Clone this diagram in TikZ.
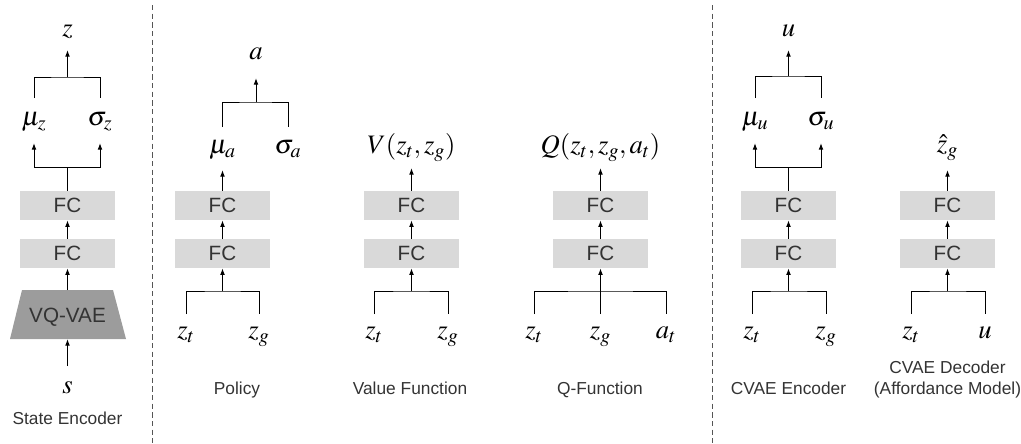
\documentclass[tikz,border=0pt]{standalone}
\usepackage{mathptmx}
\usepackage[no-math]{fontspec}
\setsansfont{Liberation Sans}
\DeclareMathSizes{20}{20}{15}{11}
\usepackage{xcolor}
\definecolor{fcgray}{HTML}{D9D9D9}
\definecolor{vqgray}{HTML}{9C9C9C}
\definecolor{labeltext}{HTML}{333333}
\definecolor{sepline}{HTML}{555555}
\usetikzlibrary{arrows.meta, positioning, calc}

\tikzset{
  fcbox/.style={fill=fcgray, minimum width=71.25pt, minimum height=21.75pt,
                inner sep=0pt, font=\sffamily\fontsize{15.5}{17}\selectfont, text=labeltext},
  vqlbl/.style={inner sep=0pt, font=\sffamily\fontsize{15.5}{17}\selectfont, text=labeltext},
  mlbl/.style={anchor=base, inner sep=0pt, font=\fontsize{20}{23}\selectfont},
  blocklabel/.style={anchor=base, align=center,
                     font=\sffamily\fontsize{13}{16}\selectfont, text=labeltext},
  wire/.style={line width=0.75pt},
  conn/.style={-{Latex[length=5pt,width=3.6pt]}, line width=0.75pt},
  sep/.style={sepline, line width=0.6pt, dash pattern=on 4pt off 2.5pt}
}

\begin{document}
\begin{tikzpicture}[x=0.75pt, y=-0.75pt]
  \useasboundingbox (0,0) rectangle (1021,443);

  % section separators
  \draw[sep] (152,5) -- (152,443);
  \draw[sep] (712,5) -- (712,443);

  % two FC layers in every block
  \foreach \blk/\x in {se/67.5, pol/222.5, val/411.5, q/600.5, ce/788.5, cd/947.5} {
    \node[fcbox] (\blk-fc1) at (\x,205.5) {FC};
    \node[fcbox] (\blk-fc2) at (\x,253.5) {FC};
    \draw[conn] (\blk-fc2) -- (\blk-fc1);
  }

  % State Encoder
  \fill[vqgray] (22,290) -- (113,290) -- (126,339) -- (10,339) -- cycle;
  \node[vqlbl] (se-vq) at (67.5,317) {VQ-VAE};
  \coordinate (se-vqtop) at (67.5,290);
  \coordinate (se-vqbot) at (67.5,339);
  \node[mlbl] (se-s) at (67.5,393) {$s$};
  \draw[conn] ([yshift=20.25pt]se-s.base) -- (se-vqbot);
  \draw[conn] (se-vqtop) -- (se-fc2);
  \node[mlbl] (se-mu) at (34,125) {$\mu_z$};
  \node[mlbl] (se-sig) at (100,125) {$\sigma_z$};
  \coordinate (se-split) at (67.5,167);
  \draw[wire] (se-fc1.north) -- (se-split);
  \draw[conn] (se-split) -| ([yshift=-13.5pt]se-mu.base);
  \draw[conn] (se-split) -| ([yshift=-13.5pt]se-sig.base);
  \node[mlbl] (se-z) at (67.5,36) {$z$};
  \coordinate (se-top) at (67.5,77);
  \draw[wire] ([yshift=20.25pt]se-mu.base) |- (se-top) -| ([yshift=20.25pt]se-sig.base);
  \draw[conn] (se-top) -- ([yshift=-10.5pt]se-z.base);
  \node[blocklabel] (se-cap) at (67.5,424) {State Encoder};

  % Policy
  \node[mlbl] (pol-zt) at (186,338) {$z_t$};
  \node[mlbl] (pol-zg) at (259,338) {$z_g$};
  \coordinate (pol-bar) at (222.5,291);
  \draw[wire] ([yshift=18pt]pol-zt.base) |- (pol-bar) -| ([yshift=18pt]pol-zg.base);
  \draw[conn] (pol-bar) -- (pol-fc2);
  \node[mlbl] (pol-mu) at (222.5,153) {$\mu_a$};
  \node[mlbl] (pol-sig) at (288,153) {$\sigma_a$};
  \draw[conn] (pol-fc1.north) -- ([yshift=-12.75pt]pol-mu.base);
  \node[mlbl] (pol-a) at (256,59) {$a$};
  \coordinate (pol-top) at (256,102);
  \draw[wire] ([yshift=19.5pt]pol-mu.base) |- (pol-top) -| ([yshift=19.5pt]pol-sig.base);
  \draw[conn] (pol-top) -- ([yshift=-14.25pt]pol-a.base);
  \node[blocklabel] (pol-cap) at (237,394.5) {Policy};

  % Value Function
  \node[mlbl] (val-zt) at (374,338) {$z_t$};
  \node[mlbl] (val-zg) at (448,338) {$z_g$};
  \coordinate (val-bar) at (411.5,291);
  \draw[wire] ([yshift=18pt]val-zt.base) |- (val-bar) -| ([yshift=18pt]val-zg.base);
  \draw[conn] (val-bar) -- (val-fc2);
  \node[mlbl] (val-out) at (411.5,153) {$V(z_t, z_g)$};
  \draw[conn] (val-fc1.north) -- ([yshift=-11.25pt]val-out.base);
  \node[blocklabel] (val-cap) at (410,394.5) {Value Function};

  % Q-Function
  \node[mlbl] (q-zt) at (534,338) {$z_t$};
  \node[mlbl] (q-zg) at (600.5,338) {$z_g$};
  \node[mlbl] (q-at) at (666,338) {$a_t$};
  \coordinate (q-bar) at (600.5,291);
  \draw[wire] ([yshift=18pt]q-zt.base) |- (q-bar) -| ([yshift=18pt]q-at.base);
  \draw[conn] ([yshift=18pt]q-zg.base) -- (q-fc2);
  \node[mlbl] (q-out) at (600.5,153) {$Q(z_t, z_g, a_t)$};
  \draw[conn] (q-fc1.north) -- ([yshift=-11.25pt]q-out.base);
  \node[blocklabel] (q-cap) at (600,394.5) {Q-Function};

  % CVAE Encoder
  \node[mlbl] (ce-zt) at (752,338) {$z_t$};
  \node[mlbl] (ce-zg) at (826,338) {$z_g$};
  \coordinate (ce-bar) at (788.5,291);
  \draw[wire] ([yshift=18pt]ce-zt.base) |- (ce-bar) -| ([yshift=18pt]ce-zg.base);
  \draw[conn] (ce-bar) -- (ce-fc2);
  \node[mlbl] (ce-mu) at (755,125) {$\mu_u$};
  \node[mlbl] (ce-sig) at (821,125) {$\sigma_u$};
  \coordinate (ce-split) at (788.5,167);
  \draw[wire] (ce-fc1.north) -- (ce-split);
  \draw[conn] (ce-split) -| ([yshift=-13.5pt]ce-mu.base);
  \draw[conn] (ce-split) -| ([yshift=-13.5pt]ce-sig.base);
  \node[mlbl] (ce-u) at (788.5,36) {$u$};
  \coordinate (ce-top) at (788.5,76);
  \draw[wire] ([yshift=20.25pt]ce-mu.base) |- (ce-top) -| ([yshift=20.25pt]ce-sig.base);
  \draw[conn] (ce-top) -- ([yshift=-10.5pt]ce-u.base);
  \node[blocklabel] (ce-cap) at (788.5,394.5) {CVAE Encoder};

  % CVAE Decoder
  \node[mlbl] (cd-zt) at (911,338) {$z_t$};
  \node[mlbl] (cd-u) at (985,338) {$u$};
  \coordinate (cd-bar) at (947.5,291);
  \draw[wire] ([yshift=18pt]cd-zt.base) |- (cd-bar) -| ([yshift=18pt]cd-u.base);
  \draw[conn] (cd-bar) -- (cd-fc2);
  \node[mlbl] (cd-out) at (947.5,152) {$\hat{z}_g$};
  \draw[conn] (cd-fc1.north) -- ([yshift=-13.5pt]cd-out.base);
  \node[blocklabel] (cd-cap) at (947.5,394.5) {CVAE Decoder\\(Affordance Model)};
\end{tikzpicture}
\end{document}
